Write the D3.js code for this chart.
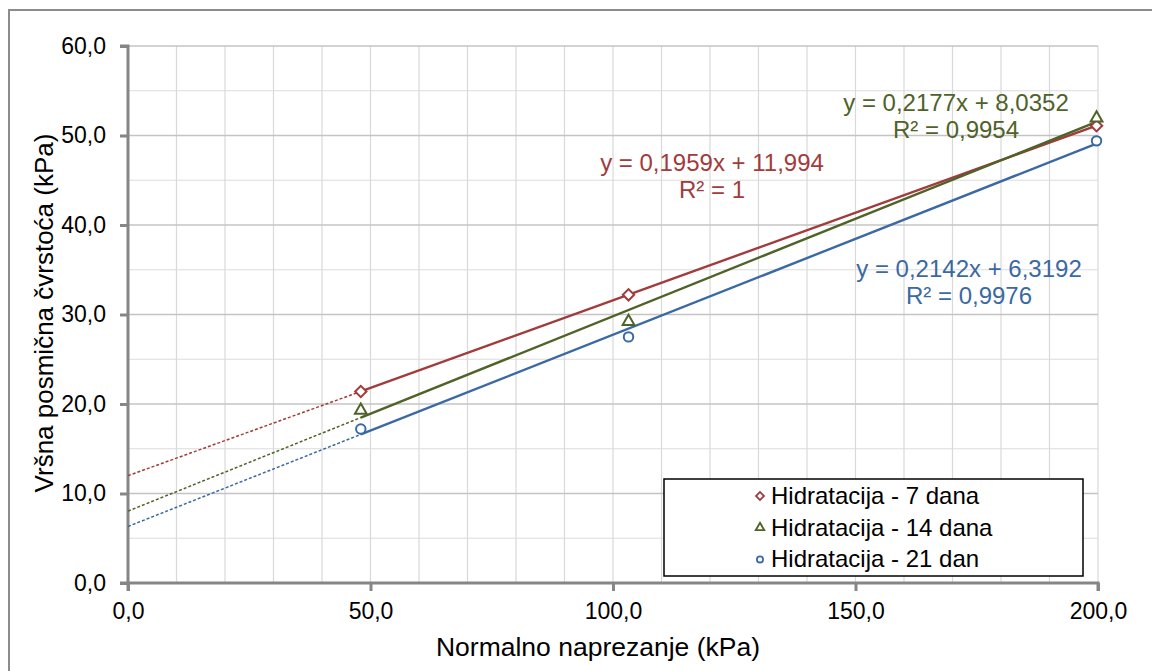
<!DOCTYPE html>
<html>
<head>
<meta charset="utf-8">
<script src="https://cdn.jsdelivr.net/npm/d3@7"></script>
<style>
    body { margin: 0; background: #fff; }
    text { font-family: "Liberation Sans", Arial, sans-serif; }
</style>
</head>
<body>
<svg id="chart"></svg>
<script>
// normal stress (kPa) of the three test points
var normalStress = [48, 103.2, 199.7];

// peak shear strength (kPa) per hydration time
var seriesNames = ["Hidratacija - 7 dana", "Hidratacija - 14 dana", "Hidratacija - 21 dan"];
var shear7 = [21.4, 32.2, 51.1];
var shear14 = [19.3, 29.2, 51.95];
var shear21 = [17.2, 27.5, 49.4];

// trendline coefficients as printed on the chart
var slopes = [0.1959, 0.2177, 0.2142];
var intercepts = [11.994, 8.0352, 6.3192];
var eqLabels = ["y = 0,1959x + 11,994", "y = 0,2177x + 8,0352", "y = 0,2142x + 6,3192"];
var r2Labels = ["R² = 1", "R² = 0,9954", "R² = 0,9976"];

var xTicks = [0, 50, 100, 150, 200];
var yTicks = [0, 10, 20, 30, 40, 50, 60];

var colors = ["#a23b3c", "#4f6228", "#3b69a3"];
// diamond = square turned 45 degrees (Excel style)
var symbols = [d3.symbolSquare, d3.symbolTriangle, d3.symbolCircle];
var rotations = [45, 0, 0];
var markerSizes = [64, 60, 70];

const width = 1152,
    height = 671;

var margin = {top: 46, right: 54, bottom: 88, left: 128};

var svg = d3.select("#chart")
    .attr("width", width)
    .attr("height", height);

// outer chart frame (clipped on right / bottom like the original)
svg.append("rect")
    .attr("x", 9).attr("y", 10)
    .attr("width", 1160).attr("height", 700)
    .attr("fill", "none")
    .attr("stroke", "#8c8c8c")
    .attr("stroke-width", 2);

var x = d3.scaleLinear()
    .domain([0, 200])
    .range([margin.left, width - margin.right]);

var y = d3.scaleLinear()
    .domain([0, 60])
    .range([height - margin.bottom, margin.top]);

// gridlines
svg.append("g")
    .selectAll("line")
    .data(d3.range(10, 201, 10))
    .enter().append("line")
    .attr("x1", d => x(d)).attr("x2", d => x(d))
    .attr("y1", y(0)).attr("y2", y(60))
    .attr("stroke", "#d9d9d9")
    .attr("stroke-width", 1.2);

svg.append("g")
    .selectAll("line")
    .data(d3.range(5, 61, 5))
    .enter().append("line")
    .attr("x1", x(0)).attr("x2", x(200))
    .attr("y1", d => y(d)).attr("y2", d => y(d))
    .attr("stroke", d => d % 10 === 0 ? "#c4c4c4" : "#dcdcdc")
    .attr("stroke-width", d => d % 10 === 0 ? 1.6 : 1.2);

// axes
var xAxis = d3.axisBottom(x)
    .tickValues(xTicks)
    .tickSize(8)
    .tickPadding(12)
    .tickFormat(d => d3.format(".1f")(d).replace(".", ","));

var yAxis = d3.axisLeft(y)
    .tickValues(yTicks)
    .tickSize(8)
    .tickPadding(14)
    .tickFormat(d => d3.format(".1f")(d).replace(".", ","));

var gx = svg.append("g")
    .attr("transform", "translate(0," + y(0) + ")")
    .call(xAxis);

var gy = svg.append("g")
    .attr("transform", "translate(" + x(0) + ",0)")
    .call(yAxis);

[gx, gy].forEach(function(g) {
    g.select(".domain").attr("stroke", "#868686").attr("stroke-width", 3);
    g.selectAll(".tick line").attr("stroke", "#868686").attr("stroke-width", 3);
    g.selectAll(".tick text")
        .attr("fill", "#000")
        .style("font-size", "23px")
        .style("font-family", "'Liberation Sans', Arial, sans-serif");
});
gx.select(".domain").attr("d", "M" + (x(0) - 8) + ",0H" + x(200) + "V8");
gy.select(".domain").attr("d", "M-8," + y(60) + "H0V" + (y(0) + 8));

// axis titles
svg.append("text")
    .attr("x", 598)
    .attr("y", 656)
    .attr("text-anchor", "middle")
    .style("font-size", "26.5px")
    .text("Normalno naprezanje (kPa)");

svg.append("text")
    .attr("transform", "translate(53," + 313 + ") rotate(-90)")
    .attr("text-anchor", "middle")
    .style("font-size", "26px")
    .text("Vršna posmična čvrstoća (kPa)");

var allSeries = [shear7, shear14, shear21];

// trendlines: solid over the data range, dotted backward forecast to x = 0
allSeries.forEach(function(vals, i) {
    var f = xv => slopes[i] * xv + intercepts[i];
    var x0 = d3.min(normalStress), x1 = d3.max(normalStress);

    svg.append("line")
        .attr("x1", x(0)).attr("y1", y(f(0)))
        .attr("x2", x(x0)).attr("y2", y(f(x0)))
        .attr("stroke", colors[i])
        .attr("stroke-width", 1.5)
        .attr("stroke-dasharray", "3,2");

    svg.append("line")
        .attr("x1", x(x0)).attr("y1", y(f(x0)))
        .attr("x2", x(x1)).attr("y2", y(f(x1)))
        .attr("stroke", colors[i])
        .attr("stroke-width", 2.4);
});

// markers
allSeries.forEach(function(vals, i) {
    svg.append("g")
        .selectAll("path")
        .data(vals)
        .enter().append("path")
        .attr("transform", (d, j) => "translate(" + x(normalStress[j]) + "," + y(d) + ") rotate(" + rotations[i] + ")")
        .attr("d", d3.symbol().type(symbols[i]).size(markerSizes[i]))
        .attr("fill", "#fff")
        .attr("stroke", colors[i])
        .attr("stroke-width", 2);
});

// equation labels
var labelPos = [[712, 171], [956, 111], [969, 277]];
labelPos.forEach(function(p, i) {
    var t = svg.append("text")
        .attr("text-anchor", "middle")
        .attr("fill", colors[i])
        .style("font-size", "24px");
    t.append("tspan").attr("x", p[0]).attr("y", p[1]).text(eqLabels[i]);
    t.append("tspan").attr("x", p[0]).attr("y", p[1] + 27).text(r2Labels[i]);
});

// legend
var legend = svg.append("g");
legend.append("rect")
    .attr("x", 664).attr("y", 479)
    .attr("width", 419).attr("height", 97)
    .attr("fill", "#fff")
    .attr("stroke", "#000")
    .attr("stroke-width", 1.5);

var legendItem = legend.selectAll("g.item")
    .data(seriesNames)
    .enter().append("g")
    .attr("class", "item")
    .attr("transform", (d, i) => "translate(0," + (496 + i * 31.7) + ")");

legendItem.append("path")
    .attr("transform", (d, i) => "translate(760,0) rotate(" + rotations[i] + ")")
    .attr("d", (d, i) => d3.symbol().type(symbols[i]).size(i === 2 ? 30 : 32)())
    .attr("fill", "#fff")
    .attr("stroke", (d, i) => colors[i])
    .attr("stroke-width", 1.8);

legendItem.append("text")
    .attr("x", 771)
    .attr("y", 8)
    .style("font-size", "24px")
    .text(d => d);
</script>
</body>
</html>
